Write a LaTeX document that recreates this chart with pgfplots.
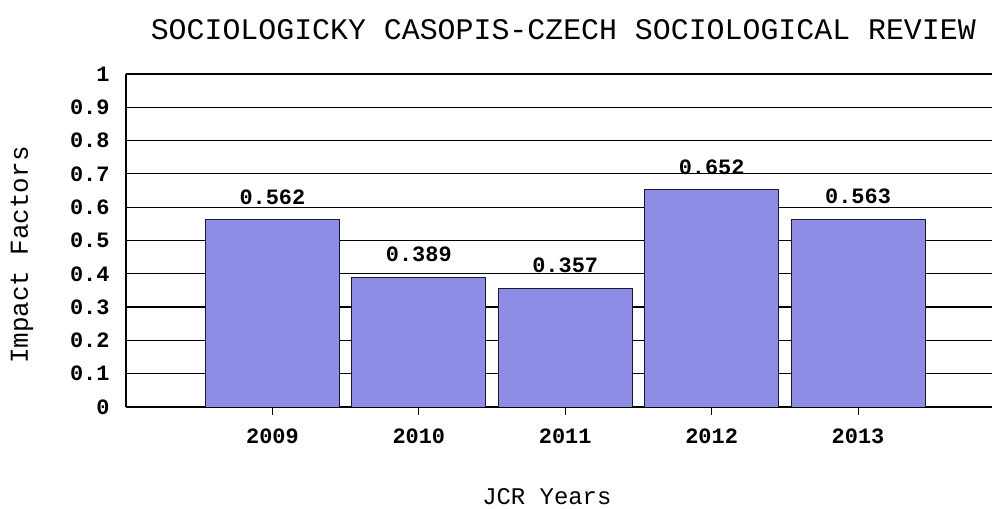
\documentclass[border=0pt]{standalone}
\usepackage{fontspec}
\setmainfont{Liberation Mono}
\usepackage{pgfplots}
\pgfplotsset{compat=1.18}
\definecolor{barblue}{RGB}{141,141,230}
\definecolor{edgec}{RGB}{25,25,50}
\begin{document}
\begin{tikzpicture}
\useasboundingbox (0,0) rectangle (992bp,509bp);
\begin{axis}[
  at={(126bp,102bp)}, anchor=south west,
  scale only axis, width=866bp, height=333bp,
  xmin=2008, xmax=2013.915, ymin=0, ymax=1,
  axis x line*=bottom, axis y line*=left,
  axis line style={black, line width=1.2bp},
  ymajorgrids, grid style={black, line width=1.2bp},
  ytick={0,0.1,0.2,0.3,0.4,0.5,0.6,0.7,0.8,0.9,1},
  yticklabels={0,0.1,0.2,0.3,0.4,0.5,0.6,0.7,0.8,0.9,1},
  xtick={2009,2010,2011,2012,2013},
  xticklabels={2009,2010,2011,2012,2013},
  ytick style={draw=none},
  xtick style={black, line width=1bp},
  tick align=outside, major tick length=8bp,
  ticklabel style={font=\fontsize{22}{22}\selectfont\bfseries},
  yticklabel style={xshift=-5bp},
  xticklabel style={yshift=-10bp},
  title={SOCIOLOGICKY CASOPIS-CZECH SOCIOLOGICAL REVIEW},
  title style={font=\fontsize{30}{30}\selectfont, at={(rel axis cs:0.505,1)}, anchor=center, yshift=38bp},
  ylabel={Impact Factors},
  ylabel style={font=\fontsize{26}{26}\selectfont, at={(rel axis cs:0,0.456)}, anchor=center, yshift=104bp},
  xlabel={JCR Years},
  xlabel style={font=\fontsize{24}{24}\selectfont, at={(rel axis cs:0.486,0)}, anchor=center, yshift=-90bp},
  ybar, bar width=134bp, bar shift=0pt,
  nodes near coords, point meta=explicit symbolic,
  nodes near coords style={font=\fontsize{22}{22}\selectfont\bfseries, anchor=south, inner sep=0pt, yshift=15bp},
]
\addplot[fill=barblue, draw=edgec, line width=1bp] coordinates {
  (2009,0.562) [0.562]
  (2010,0.389) [0.389]
  (2011,0.357) [0.357]
  (2012,0.652) [0.652]
  (2013,0.563) [0.563]
};
\end{axis}
\end{tikzpicture}
\end{document}
